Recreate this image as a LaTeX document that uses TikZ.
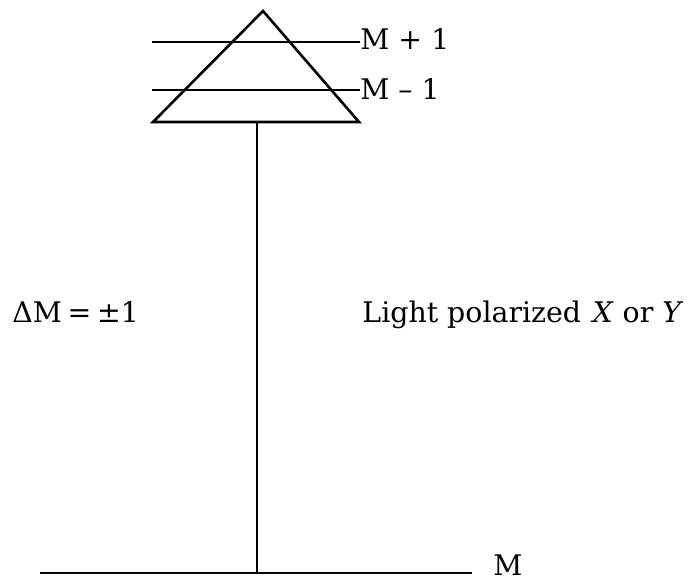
\documentclass[tikz,border=0pt]{standalone}
\usepackage{fontspec}
\setmainfont{DejaVu Serif}
\usetikzlibrary{positioning}
\tikzset{
  level/.style={line width=1.3pt},
  lbl/.style={inner sep=0pt, font=\fontsize{14.2}{17}\selectfont},
}
\begin{document}
\begin{tikzpicture}[x=0.5pt,y=-0.5pt]
\useasboundingbox (0,0) rectangle (697,582);
% excited manifold
\coordinate (apex) at (263,11);
\coordinate (bl) at (153,122);
\coordinate (br) at (359,122);
\draw[level, line join=miter] (apex) -- (bl) -- (br) -- cycle;

\coordinate (up) at (152,42);
\coordinate (dn) at (152,90);
\node[lbl, anchor=base west] (mplus) at (360,50) {M + 1};
\node[lbl, anchor=base west] (mminus) at (360,100) {M – 1};
\draw[level] (up) -- (up -| mplus.west);
\draw[level] (dn) -- (dn -| mminus.west);

% ground level
\coordinate (top) at (257,122);
\coordinate (foot) at (257,573);
\coordinate (gl) at (40,573);
\coordinate (gr) at (472,573);
\draw[level] (top) -- (foot);
\draw[level] (gl) -- (gr);
\node[lbl, anchor=base west] (mzero) at (493,576) {M};

% labels
\node[lbl, anchor=base west] (rule) at (12,323) {ΔM\hspace{0.2em}=\hspace{0.2em}±1};
\node[lbl, anchor=base west] (light) at (362,323) {Light polarized\hspace{0.4em}\textit{X} or \textit{Y}};
\end{tikzpicture}
\end{document}
